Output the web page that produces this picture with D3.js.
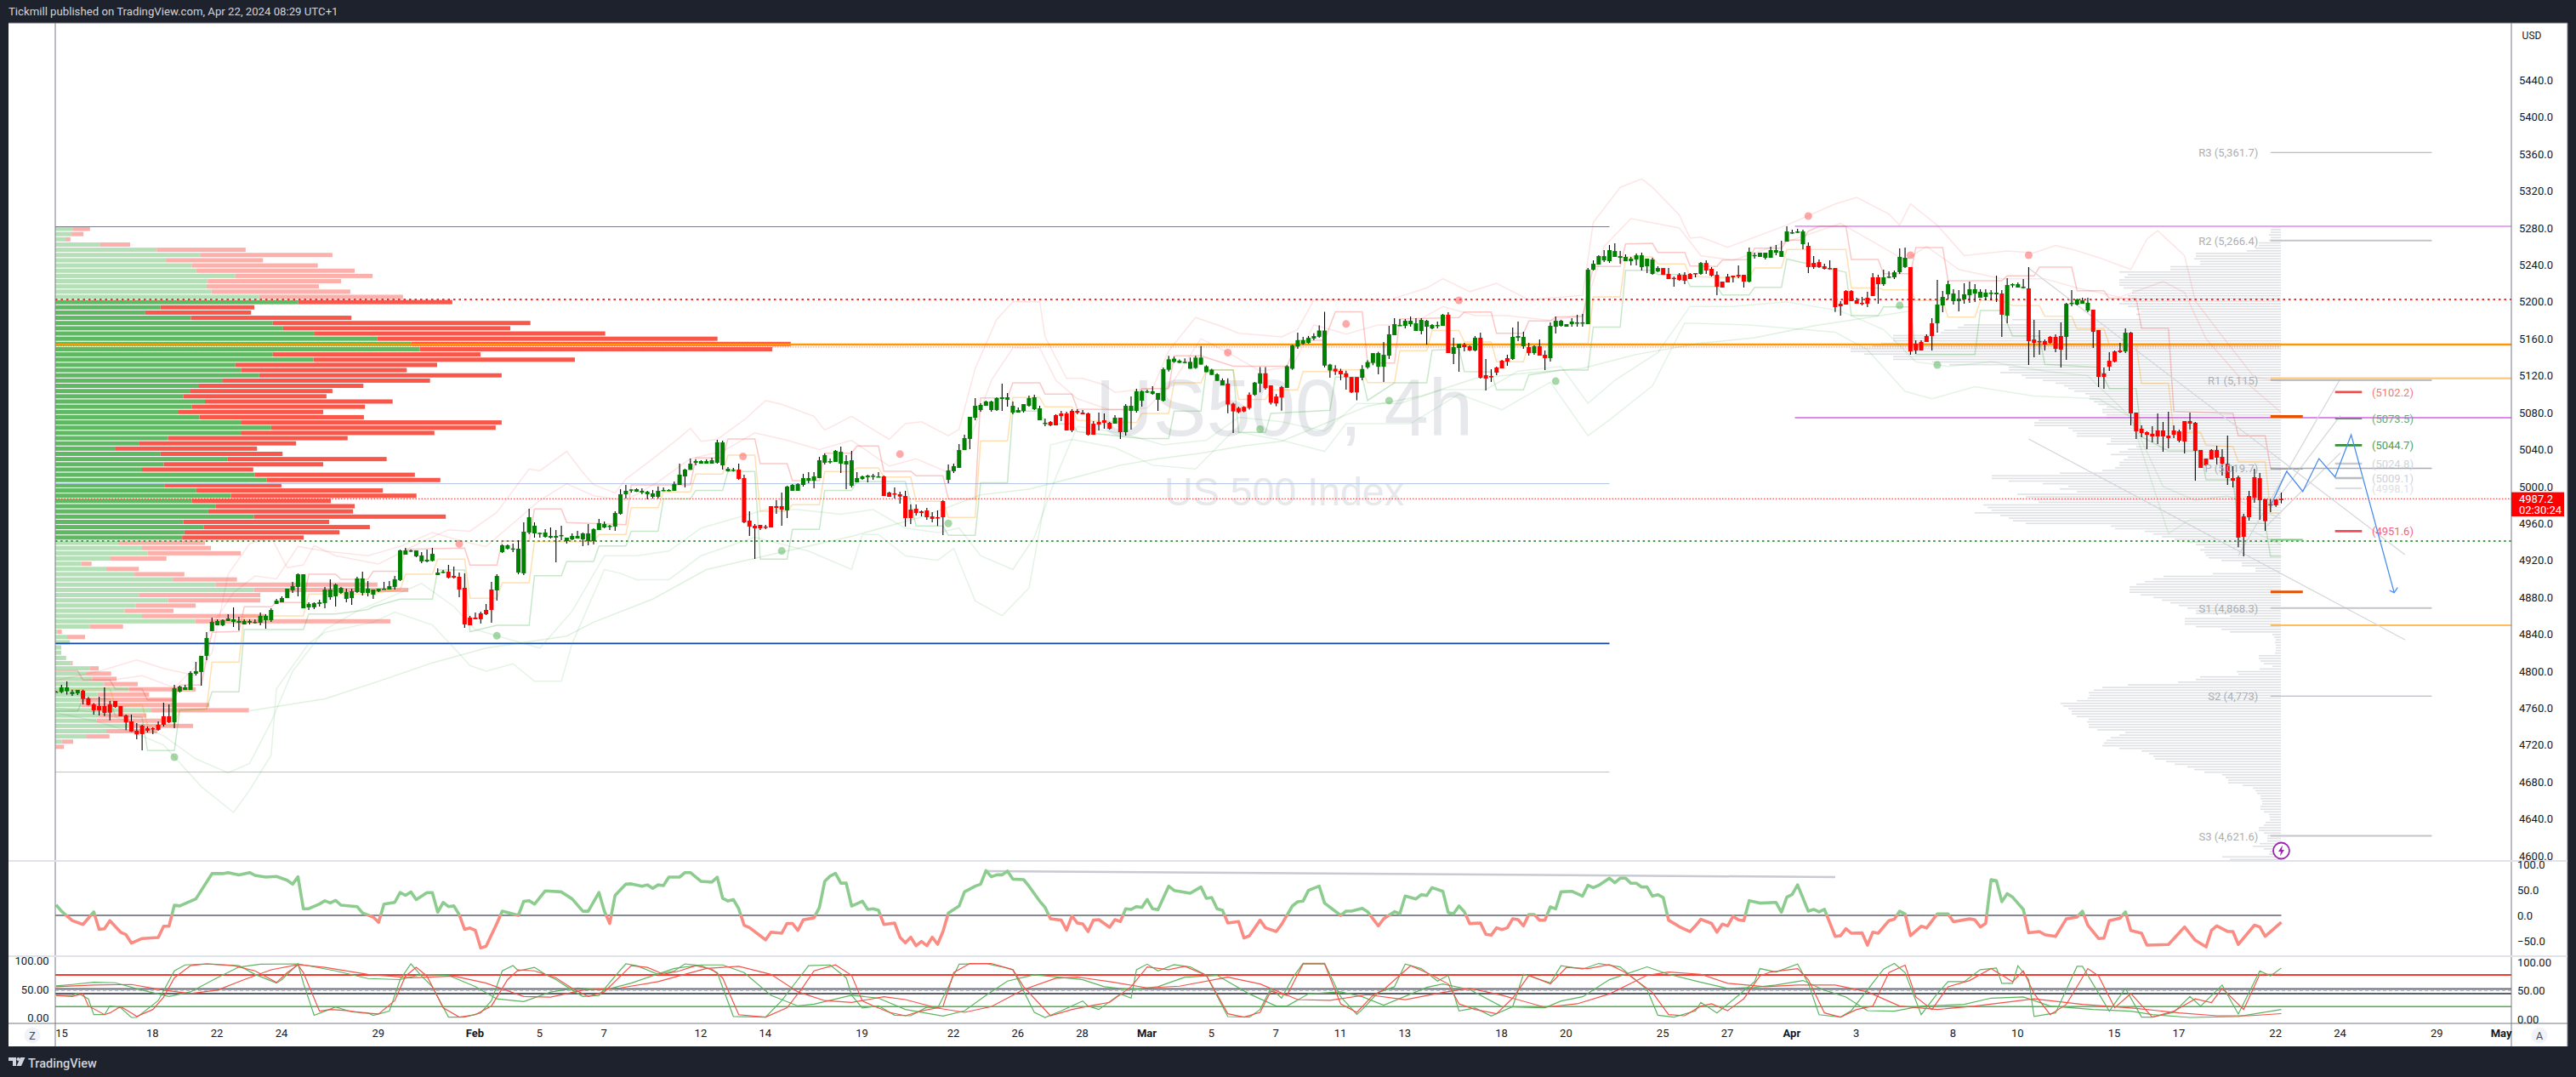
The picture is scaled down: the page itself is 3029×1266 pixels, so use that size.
<!DOCTYPE html>
<html><head><meta charset="utf-8">
<script src="https://cdn.jsdelivr.net/npm/d3@7/dist/d3.min.js"></script>
<style>html,body{margin:0;padding:0;background:#1e222d;overflow:hidden}svg{display:block}text{font-family:Roboto,sans-serif}</style>
</head><body><svg id="c" width="3029" height="1266"></svg>
<script>
// ---------- candles (one entry per 4h bar) ----------
const bodyTop=[4777.9,4782.5,4782.5,4777.6,4779.7,4778.8,4770.5,4764,4762.2,4762.2,4764,4767.7,4762.2,4752.1,4745.6,4735.5,4741,4738.2,4738.2,4741.9,4751.1,4751.1,4781.5,4783.4,4782.5,4798.1,4800,4816.6,4835.9,4853.4,4854.3,4855.3,4857.1,4856.2,4854.3,4854.3,4854.3,4853.4,4859.9,4859.9,4866.3,4876.4,4879.2,4889.3,4892.1,4905,4905,4872.8,4873.7,4874.6,4888.4,4888.4,4893.9,4890.3,4885.7,4886.6,4900.4,4900.4,4889.3,4888.4,4889.3,4889.3,4892.1,4899.5,4930.8,4930.8,4930.8,4930.8,4925.3,4920.7,4927.1,4906.8,4907.8,4907.8,4903.2,4902.2,4890.3,4858,4858,4862.6,4866.3,4888.4,
4903.1,4936.3,4936.3,4932.9,4932.6,4951,4966.7,4957.5,4949.8,4950.1,4946.4,4946.4,4947.4,4944.6,4946.4,4946.4,4949.2,4949.2,4953.8,4960.3,4959.3,4957.5,4971.3,4991.6,4995.3,4996.8,4997.1,4995.3,4994.3,4992.5,4995.3,4996.2,4996.2,5002.6,5012.8,5018.3,5024.7,5027.5,5027.5,5027.5,5028.4,5047.8,5047.8,5019.2,5018.3,5018.3,5009.1,4963,4957.5,4958.4,4956.6,4978.7,4978.7,4978.7,4999.9,5001.7,5002.6,5009.1,5009.1,5010.9,5028.4,5034,5027.5,5038.6,5037.6,5027.5,5028.4,5009.1,5010.9,5011.8,5011.8,5010.9,5010.9,4993.4,4992.5,4991.6,4989.7,4975,4975.9,4973.1,4974.1,4967.6,
4966.7,4984.2,5017.4,5022,5039.5,5052.4,5075.4,5087.4,5088.3,5092,5092,5095.7,5096.6,5096.6,5087.4,5082.8,5089.2,5095.7,5096.6,5084.6,5069,5069.9,5077.3,5079.1,5079.1,5081.9,5081.9,5080,5079.1,5068,5069.9,5071.7,5069,5074.5,5074.5,5087.4,5087.4,5103.1,5103.1,5103.1,5103.1,5101.2,5127,
5137.7,5138.4,5136.2,5135,5135,5139.6,5139.6,5130.2,5126.4,5121.5,5115.1,5111.4,5089.6,5085,5086.2,5099.3,5112.5,5122.6,5122.6,5109.5,5097.4,5107.6,5130.2,5152.7,5158.4,5158.4,5161,5162.9,5168.9,5168.9,5132,5127.5,5125.3,5122.6,5118.5,5118.5,5127.2,5134.7,5144.4,
5144.5,5142.6,5164.8,5175.8,5174.9,5179.5,5179.5,5176.7,5180.4,5179.5,5174.9,5174.9,5186,5186,5150.9,5154.6,5153.7,5151.9,5161.1,5161.1,5120.5,5119.6,5128.8,5136.2,5139,5162,5162.9,5162,5150.9,5151.9,5151.9,5142.6,5174,5179.5,5179.5,5175.8,5178.6,5177.7,5177.7,5234.8,5241.2,5249.5,5249.5,5256,5255,5249.5,5248.6,5246.8,5250.4,5250.4,5246.8,5245.8,5236.6,5236.6,5230.2,5225.9,5229.2,5229.2,5230.2,5231.1,5242.1,5242.1,5235.7,5229.2,5221.9,5227.4,5228.3,5229.2,5229.2,5254.1,5250.7,5253.2,5253.2,5256,5256,5255,5276.2,5275.3,5276.2,5276.2,5260.6,5242.1,5243,
5238.5,5236.6,5236.6,5197.9,5211.7,5211.7,5201.6,5198.9,5204.4,5226.5,5226.5,5226.5,5227.4,5232,5248.6,5247.7,5237.6,5154.6,5156.5,5162.9,5176.7,5197,5205.3,5219.1,5209,5203.5,5208.1,5213.6,5213.6,5210.8,5209.9,5209.9,5209.9,5209,5218.2,5219.1,5219.1,5216.4,5214.5,5159.2,5157.4,5157.4,5162,5162,5162.9,5197.9,5198.9,5202.5,5201.6,5198.9,5191.5,5169.4,5122.4,5136.2,5146.3,5147.3,5166.6,5166.6,5080,5062.5,5058.8,5057,5060.7,5060.7,5055.1,5060.7,5059.7,5070.8,5070.8,5069,5039.5,5030.3,5039.5,5039.5,5032.1,5024.7,5009.1,5010,4967.6,4989.7,5010,5009.1,4986.3,4980.8,4986,4986.6];
const bodyBottom=[4777.2,4777.2,4778.2,4775.1,4776,4769.9,4763.4,4757.6,4757.6,4754.8,4755.1,4761.3,4751.1,4744.7,4734.6,4731.5,4731.8,4735.5,4737.3,4736.4,4741.9,4744.7,4744.7,4777.9,4779.7,4779.7,4797.2,4799.1,4816.6,4843.3,4849.7,4849.7,4854.3,4853.4,4852.5,4850.6,4852.5,4852.8,4852.5,4855.3,4855.3,4872.8,4874.6,4879.2,4887.5,4891.2,4868.1,4869.1,4869.1,4872.8,4873.7,4880.1,4881,4884.7,4878.3,4879.2,4885.7,4884.7,4884.7,4882.9,4886.6,4888.7,4888.4,4891.2,4898.6,4926.2,4929.9,4924.3,4918.8,4918.8,4919.4,4904.1,4906.8,4901.3,4901.3,4888.4,4850.6,4849.7,4856.2,4856.2,4861.7,4866.3,
4887.5,4928.9,4932.6,4932,4906.8,4905.9,4950.1,4949.2,4949.2,4945.5,4944.6,4944.6,4946.7,4940.9,4942.7,4943.7,4942.7,4940.9,4940.9,4952.9,4955.6,4956.9,4956.6,4970.4,4991.6,4995.9,4994.3,4993.4,4991.6,4988.8,4988.8,4995.3,4995.3,4995.3,5001.7,5010.9,5018,5025.7,5024.7,5024.7,5024.7,5025.7,5022.9,5016.4,5017.4,5008.2,4961.2,4956.6,4954.7,4954.7,4955.6,4955.6,4976.8,4975,4974.1,4995.3,4995.3,5001.7,5006.3,5006.3,5009.1,5025.7,5026.6,5026.6,5024.7,5023.8,5000.8,5004.5,5008.2,5010,5010.9,5010,4989.7,4988.8,4991.6,4989.1,4965.8,4965.8,4971.3,4971.3,4966.7,4964.9,
4965.8,4966.7,5007.2,5016.5,5020.1,5039.5,5051.5,5074.5,5082.8,5087.4,5082.8,5082.8,5094.8,5093.9,5080,5080,5081.6,5087.4,5083.7,5071.7,5068.4,5066.2,5066.2,5076.3,5060.7,5060.7,5080,5078.2,5056,5056,5067.1,5069,5062.5,5068,5058.8,5058.8,5081.9,5081.9,5092.9,5102.1,5100.3,5093.9,5092.9,
5126.4,5135,5133.9,5134.3,5127.5,5128.3,5132,5123.8,5120.8,5114.4,5109.5,5088.8,5081.3,5080.5,5081.3,5085,5099.3,5111.4,5106.5,5090.7,5089.9,5096.3,5106.8,5127.5,5151.6,5154.6,5155.4,5160.2,5162.1,5130.9,5125.6,5124.5,5121.5,5118.5,5101.9,5101.9,5117.8,5129,5133.9,
5129.7,5129.7,5141.7,5163.8,5174,5174,5175.8,5168.4,5168.4,5173,5171.2,5174,5174,5144.5,5143.6,5150,5150.9,5147.3,5147.3,5117.8,5116.9,5118.7,5123.3,5127.9,5135.3,5138,5161.1,5151.9,5144.5,5144.5,5141.7,5139,5139,5173,5174,5173,5175.8,5176.7,5176.7,5175.8,5234.8,5240.3,5244.9,5244,5248.6,5247.7,5244,5244,5245.8,5237.5,5238.5,5230.2,5232.9,5229.2,5224.6,5225.3,5223.7,5222.8,5224.6,5230.2,5230.2,5233.9,5228.3,5216.3,5215.4,5221,5226.5,5227.4,5221.9,5221.9,5249.8,5248.6,5247.7,5247.7,5253.2,5248.6,5265.2,5274.4,5274.7,5262.4,5237.5,5237.5,5237.5,
5235.7,5236,5194.2,5195.2,5197,5200.7,5197.9,5198.2,5197.9,5206.2,5219.1,5219.1,5226.5,5226.5,5232,5237.6,5146.3,5147.3,5147.3,5156.5,5162.9,5176.7,5196.1,5208.1,5200.7,5200.7,5202.5,5207.2,5209,5204.4,5205.3,5209,5208.1,5186,5185,5218.2,5215.4,5214.8,5157.4,5155.6,5156.5,5153.7,5155.6,5149.1,5148.2,5162,5197.9,5197,5197.9,5190.6,5167.5,5118.7,5118.7,5129.8,5135.3,5145.4,5146.3,5079.1,5059.7,5057.9,5056,5054.2,5054.2,5054.2,5052.4,5056,5049.6,5048.7,5068,5038.6,5020.1,5022.9,5029.3,5031.2,5024.7,5009.1,5006.3,4944.6,4945.5,4966.7,4987.9,4985.1,4962.4,4980.2,4979.6,4986];
const highs=[4778.8,4785.2,4788.9,4780,4779.7,4780,4772,4765.3,4772.3,4782.5,4767.7,4767.7,4762.2,4753,4753,4743.8,4741.9,4740.1,4739.2,4745.6,4765.9,4764,4785.2,4784.3,4785.2,4800,4810.1,4816.6,4842.4,4858,4856.2,4856.2,4861.7,4869.1,4858.9,4856.2,4856.2,4856.2,4863.5,4861.7,4868.1,4878.3,4881,4889.3,4896.7,4905.9,4905,4874.6,4874.6,4877.4,4891.2,4899.5,4894.9,4891.2,4889.3,4889.3,4902.2,4907.8,4897.6,4888.4,4889.3,4896.7,4897.6,4903.2,4931.7,4933.6,4931.7,4930.8,4929,4931.7,4933.6,4911.5,4909.6,4915.1,4913.3,4906.8,4905.9,4859.9,4863.5,4864.5,4872.8,4896.7,
4905,4937.2,4937.2,4938.1,4941.8,4961.2,4975.9,4961.2,4950.1,4953.8,4955.6,4952.9,4957.5,4944.6,4949.2,4952,4950.1,4959.3,4954.7,4964.9,4962.1,4958.4,4973.1,4997.1,5001.7,4997.1,4998,4998,4995.3,4996.2,5000,4999,4997.1,5005.4,5024.7,5019.2,5030.3,5029.3,5028.4,5029.3,5031.2,5050.5,5049.6,5021.1,5020.1,5024.7,5012.8,4973.1,4959.3,4958.4,4958.4,4978.7,4985.1,4993.4,5000.8,5002.6,5003.6,5013.7,5015.5,5015.5,5032.1,5035.8,5030.3,5039.5,5043.2,5034,5038.6,5015.5,5011.8,5012.8,5013.7,5015.5,5011.8,4994.3,4999,4994.3,4995.3,4980.5,4980.5,4974.1,4976.8,4972.2,
4974.1,4985.1,5023.8,5024.7,5045.9,5056.1,5075.4,5095.7,5090.2,5092.9,5092.9,5096.6,5111.4,5101.2,5092,5085.6,5089.2,5098.4,5099.4,5087.4,5073.6,5070.8,5078.2,5081.9,5081,5083.7,5083.7,5082.8,5080,5070.8,5080,5079.1,5069.9,5077.3,5074.5,5089.2,5097.5,5105.8,5104,5104.9,5108.6,5101.2,5128.9,
5141.4,5140.7,5137.7,5138.8,5139.6,5141.4,5152,5131.3,5127.5,5122.6,5117,5117,5090.7,5086.2,5086.9,5101.9,5113.2,5129.4,5129.4,5109.5,5100.1,5108.7,5131.3,5153.5,5166.6,5162.1,5162.9,5165.9,5174.5,5189.2,5132.8,5131.3,5127.5,5125.3,5118.5,5118.5,5131.3,5136.6,5144.4,
5146,5156.5,5174,5182.3,5181.3,5181.3,5184.1,5182.3,5182.3,5180.4,5175.8,5178.6,5186.9,5188.7,5161.1,5154.6,5155.5,5152.8,5162.9,5166.6,5138,5127,5129.7,5137.1,5142.6,5172.1,5178.6,5167.5,5155.5,5152.8,5159.2,5147.3,5177.7,5184.1,5180.4,5175.8,5182.3,5186,5186.9,5236.6,5244.9,5250.4,5256,5261.5,5263.3,5255,5251.4,5248.6,5252.3,5253.2,5246.8,5247.7,5238.5,5236.6,5236.6,5227.4,5231.1,5232,5231.1,5231.1,5243.1,5244.9,5237.5,5232.9,5221.9,5230.2,5228.3,5239.4,5229.2,5258.7,5253.2,5253.2,5253.2,5259.6,5261.5,5266.1,5281.8,5278.1,5279,5278.1,5264.3,5249.5,5245.8,
5241.2,5244.9,5236.6,5200.7,5212.7,5212.7,5204.4,5205.3,5210.8,5231.1,5229.3,5234.8,5232.9,5233.9,5257.8,5258.7,5237.6,5158.3,5158.3,5164.8,5182.3,5223.7,5211.8,5222.8,5213.6,5212.7,5220,5221.9,5219.1,5213.6,5213.6,5212.7,5228.3,5212.7,5225.6,5220,5221,5224.6,5237.6,5180.4,5169.4,5159.2,5162.9,5164.8,5177.7,5198.9,5212.7,5203.5,5204.4,5204.4,5191.5,5169.4,5128.8,5145.4,5147.3,5155.6,5171.2,5167.5,5080,5066.2,5059.7,5065.3,5079.1,5069.9,5080.9,5066.2,5061.6,5070.8,5080,5069.9,5039.5,5030.3,5040.4,5044,5040.4,5055.1,5022,5011.8,4970.4,4995.2,5019.2,5014.6,4986.3,4986.3,4986,4993.4];
const lows=[4776.9,4776.3,4774.5,4773.3,4774.2,4764,4762.8,4753,4752.1,4751.4,4746.8,4760.4,4751.1,4736.1,4734.3,4726.3,4714.3,4733.6,4731.8,4735.5,4740.1,4743.8,4738.2,4776.9,4779.7,4779.7,4795.4,4784.3,4812,4843.3,4849.7,4848.8,4854.3,4847.9,4844.2,4850.6,4850.6,4851.6,4849.7,4846,4853.4,4872.8,4874.6,4879.2,4884.7,4881,4868.1,4866.3,4867.2,4870,4868.1,4877.4,4870,4883.8,4874.6,4871.8,4884.7,4882,4881,4878.3,4885.7,4888.4,4888.4,4888.4,4897.6,4926.2,4929,4923.4,4917,4917.9,4918.8,4904.1,4905.9,4900.4,4900.4,4880.1,4846.9,4849.7,4856.2,4851.6,4860.8,4852.5,
4876.4,4928,4931.7,4928.9,4905,4904,4948.3,4944.6,4944.6,4944.6,4943.7,4917.9,4941.8,4938.1,4941.8,4943.7,4935.4,4936.3,4937.2,4952.9,4954.7,4952.9,4952,4969.5,4987,4993.4,4994,4991.6,4986,4987,4987,4995,4995,4995.3,5001.7,4998.9,5018,5022.9,5024.7,5024.7,5024.7,5024.7,5018.3,5016.1,5016.1,5007.2,4960.3,4946.4,4921.6,4952.9,4953.8,4955.6,4970.4,4957.5,4965.8,4995.3,4995.3,4999.9,5003.6,4998,5009.1,5023.8,5024.7,5026.6,5014.6,4997.1,4998.9,5004.5,5007.2,5004.5,5007.2,5010,4989.7,4988.8,4987,4981.4,4956.6,4959.3,4968.5,4967.6,4964,4961.2,
4957.2,4947.4,5003.6,5014.6,5020.1,5039.5,5040.4,5071.7,5080.9,5087.4,5080.9,5081.9,5081.9,5086.5,5078.2,5080,5080,5086.5,5082.8,5071.7,5065.3,5065.3,5066.2,5070.8,5060.7,5058.8,5078.2,5078.2,5055.2,5056,5060.7,5062.5,5061.6,5068,5051.5,5055.2,5061.6,5080,5086.5,5101.2,5099.4,5081.9,5092,
5124.5,5133.9,5133.5,5133.5,5127.5,5127.5,5132,5123.8,5120.8,5114.4,5109.5,5079.4,5058,5079.4,5080.5,5083.2,5098.2,5101.9,5105,5088.8,5086.9,5082,5106.8,5126.4,5149,5153.8,5154.6,5158.4,5161,5129,5117.8,5120.8,5115.1,5105,5101.2,5093.3,5115.1,5127.5,5131.3,
5121.5,5113.2,5138,5163.8,5174,5171.2,5173,5168.4,5164.8,5153.7,5170.3,5171.2,5174,5144.5,5132.5,5124.2,5146.3,5146.6,5146.3,5116.9,5104,5113.2,5120.5,5127.9,5130.7,5137.1,5157.4,5149.1,5141.7,5142.6,5141.7,5126.1,5135.3,5165.7,5173,5173,5173,5173,5173,5175.8,5233.9,5240.3,5243.1,5242.1,5248.6,5241.2,5244,5239.4,5239.4,5233.9,5231.1,5229.2,5232,5229.2,5224.6,5216.3,5222.8,5219.1,5224.6,5226.5,5229.2,5230.2,5227.4,5207.1,5215.4,5221,5221,5225.6,5215.4,5221,5246.8,5248.6,5245.8,5247.7,5250.4,5248.6,5265.2,5273.5,5274.4,5256.9,5231.1,5235.7,5236.6,
5235.1,5235.1,5189,5185,5197,5200.7,5197.9,5196.1,5194.2,5206.2,5197.9,5217.3,5225.9,5224.6,5230.2,5236.6,5142.7,5143.6,5147.3,5156.5,5147.3,5166.6,5188.7,5202.5,5197,5189.6,5197.9,5198.9,5199.8,5204.4,5201.6,5201.6,5199.8,5162,5176.7,5215.4,5215.4,5214.5,5131.6,5139.9,5142.7,5147.3,5154.6,5145.4,5128.8,5137.1,5195.2,5196.1,5197.9,5188.7,5150,5107.6,5105.8,5125.2,5134.4,5144.5,5144.5,5066.2,5051.5,5053.3,5040.4,5047.8,5046,5037.6,5041.3,5052.4,5047.8,5035.8,5061.6,5006.3,5020.1,5022,5029.3,5023.8,5011.8,5001.7,4998.9,4934.1,4924.3,4963,4982.3,4963.9,4952,4972.2,4978,4981.7];
const greenRuns=[[0,4],[22,72],[82,126],[136,153],[166,184],[197,197],[199,217],[223,224],[229,237],[243,258],[260,261],[264,264],[271,273],[275,275],[278,298],[306,306],[315,325],[340,344],[350,361],[363,366],[374,378],[385,385]];

// ---------- indicator step lines, [bar, price] ----------
const resistanceSteps=[[0,4800.3],[4,4800.3],[5,4790.5],[10,4790.5],[11,4780.6],[16,4780.6],[17,4768.9],[22,4768.9],[23,4784.9],[27,4784.9],[29,4842.1],[34,4843],[35,4869.7],[40,4869.7],[41,4874.3],[46,4874.3],[47,4905],[52,4905],[53,4899.5],[58,4899.5],[59,4908.1],[64,4908.1],[65,4932],[76,4933.3],[77,4914.8],[82,4914.8],[83,4940.9],[88,4940.9],[89,4975.6],[94,4975.6],[95,4960.9],[106,4958.7],[107,5001.7],[118,5001.7],[119,5030.9],[124,5030.9],[125,5051.5],[130,5051.5],[131,5024.7],[136,5024.7],[137,5006.3],[142,5006.3],[143,5036.1],[148,5036.1],[149,5043.8],[153,5043.8],[154,5016.5],[159,5016.5],[160,5011.5],[165,5011.5],[166,4986.4],[171,4986.4],[172,5096],[177,5096],[178,5112.3],[183,5112.3],[184,5100],[189,5100],[190,5083.7],[201,5083.1],[202,5106.1],[207,5106.1],[208,5141.4],[213,5141.4],[219,5130.2],[229,5130.2],[231,5158.4],[236,5158.4],[238,5189.2],[243,5189.2],[244,5133.9],[249,5133.7],[250,5181.3],[261,5182.9],[262,5189],[267,5189],[268,5166],[273,5166],[274,5179.2],[278,5179.2],[279,5183.5],[284,5184.4],[286,5238.2],[291,5238.2],[292,5262.7],[297,5263.3],[298,5253.5],[303,5253.5],[304,5239],[309,5238.2],[310,5245.2],[315,5245.8],[316,5258.1],[321,5258.1],[322,5266.7],[325,5266.7],[326,5276.5],[328,5281.8],[333,5281.8],[334,5245.8],[339,5245.8],[340,5230.5],[345,5230.5],[346,5258.7],[351,5258.7],[352,5222.8],[362,5222.8],[363,5228],[368,5228],[369,5237.5],[375,5237.5],[376,5212.1],[381,5212.1],[382,5203.8],[387,5203.8],[388,5171.2],[393,5171.2],[394,5081.5],[405,5079.1],[406,5054.8],[411,5054.8],[412,5020.1],[414,5018.5]];
const middleSteps=[[0,4778],[5,4780.6],[10,4781.2],[11,4762.2],[16,4763.7],[17,4740.7],[22,4740.7],[23,4758.5],[28,4758.5],[29,4809.8],[34,4809.8],[35,4859.9],[46,4859.9],[47,4883.5],[58,4883.5],[64,4888.1],[65,4905],[70,4905],[71,4921.3],[76,4921.3],[77,4878.9],[82,4878.9],[83,4895.8],[88,4895.8],[89,4940.3],[100,4940.3],[101,4948],[106,4948],[107,4977.1],[112,4977.1],[113,4994],[118,4994],[119,5013.4],[124,5013.4],[125,5034],[130,5034],[131,4973.1],[136,4973.1],[137,4980.2],[142,4980.2],[143,5016.1],[148,5016.1],[149,5020.1],[153,5020.1],[154,5010.3],[159,5010.3],[160,4983.9],[165,4983.9],[166,4966.4],[171,4966.4],[172,5049.3],[177,5049.3],[178,5096.3],[183,5096.3],[184,5086.2],[189,5086.2],[190,5071.7],[201,5069.3],[202,5079.1],[207,5079.1],[208,5112.3],[213,5112.3],[214,5126.1],[219,5126.1],[220,5094.4],[225,5094.4],[226,5104.6],[231,5104.6],[232,5124.5],[237,5124.5],[238,5126.4],[243,5126.4],[244,5112.5],[249,5112.5],[250,5147.1],[255,5147.1],[256,5168.9],[261,5168.9],[262,5156.5],[267,5156.5],[268,5135],[273,5135],[274,5154.6],[285,5154.6],[286,5205.4],[291,5205.4],[292,5248.6],[297,5248.6],[298,5241.1],[303,5241.1],[304,5227.4],[309,5226.5],[315,5225.9],[316,5236.6],[321,5236.6],[322,5256.6],[333,5256.6],[334,5215.1],[339,5215.1],[340,5213],[345,5213],[346,5201.3],[351,5201.3],[352,5183.5],[357,5183.5],[358,5201.3],[362,5201.3],[364,5195.8],[369,5195.8],[370,5184.4],[375,5184.4],[376,5170.6],[381,5170.6],[382,5153.7],[387,5153.7],[388,5111.6],[393,5111.6],[394,5058.5],[399,5058.5],[400,5044.7],[405,5043.1],[406,5026.9],[411,5026.9],[412,4971],[414,4971]];
const supportSteps=[[0,4756.7],[4,4756.7],[5,4769.9],[10,4769.9],[11,4751.5],[16,4749.9],[17,4714],[22,4714],[23,4757.6],[28,4759.1],[29,4777.6],[34,4777.6],[35,4845.1],[46,4845.1],[47,4862],[52,4862],[58,4866.6],[59,4869.7],[64,4878],[70,4878],[71,4909.6],[76,4909.6],[77,4842.7],[82,4849.7],[88,4849.7],[89,4903.4],[94,4903.4],[95,4918.8],[100,4918.8],[101,4935.7],[106,4935.7],[107,4951.6],[112,4951.6],[113,4986.4],[118,4986.4],[119,4995.6],[124,4995.6],[125,5016.1],[130,5016.1],[131,4921.2],[136,4921.2],[137,4953.5],[142,4953.5],[143,4995.6],[148,4995.6],[149,5005.4],[158,5005.4],[160,4957.2],[165,4957.2],[166,4947],[171,4947],[172,5003.9],[177,5003.9],[178,5081.6],[183,5081.6],[184,5067.7],[189,5067.7],[190,5059.4],[202,5051.8],[207,5051.8],[208,5081.6],[213,5081.6],[214,5126.4],[219,5126.4],[220,5058.5],[225,5058.5],[226,5079.1],[237,5082.5],[238,5118.4],[243,5118.4],[244,5093.2],[249,5112.2],[255,5112.2],[256,5147.6],[261,5149.1],[262,5124.5],[267,5123.9],[268,5104.6],[273,5104.6],[274,5120.8],[280,5126.1],[285,5126.1],[286,5172.7],[291,5172.7],[292,5234.2],[297,5234.2],[298,5229.6],[303,5229.6],[304,5216.7],[309,5216.7],[310,5207.4],[315,5207.4],[316,5215.7],[321,5215.7],[322,5246.4],[333,5232],[334,5185],[339,5185],[340,5194.6],[345,5194.6],[346,5143],[357,5143],[358,5190.6],[362,5190.6],[364,5162.9],[369,5162.9],[370,5132.2],[375,5130.7],[380,5129.2],[382,5106.1],[387,5106.1],[388,5053.9],[393,5038.5],[399,5038.5],[400,5007.2],[405,5007.2],[406,4960],[411,4960],[412,4924.3],[414,4924.3]];

// ---------- bands, [bar, price] ----------
const upperOuter=[[0,4790],[8,4800],[15,4812],[20,4803],[26,4795],[29,4820],[32,4905],[36,4938],[40,4945],[43,4912],[46,4915],[48,4936],[52,4925],[60,4916],[68,4940],[73,4953],[77,4951.6],[82,4972],[88,5019],[90,5017],[95,5038],[98,5015],[100,5002],[104,4993],[106,5008],[111,5030],[116,5053],[118,5063],[120,5049],[123,5051],[128,5072],[132,5093],[135,5089],[141,5076],[143,5061],[148,5076],[155,5051],[158,5068],[161,5070],[166,5055],[168,5062],[171,5128],[175,5181],[178,5200],[183,5200],[184,5162],[188,5117],[191,5117],[195,5110],[197,5102],[200,5104],[204,5106],[207,5147],[212,5183],[217,5173],[220,5166],[228,5162],[231,5170],[234,5202],[243,5202],[248,5202],[255,5215],[258,5225],[263,5211],[268,5220],[274,5202],[284,5207],[286,5286],[291,5324],[295,5333],[297,5324],[302,5294],[304,5269],[306,5270],[311,5259],[322,5283],[331,5306],[335,5313],[341,5295],[343,5283],[345,5306],[350,5283],[355,5250],[363,5255],[368,5253],[372,5261],[375,5257],[380,5248],[386,5235],[389,5268],[391,5277],[396,5250],[398,5201],[403,5163],[409,5118],[414,5114]];
const upperInner=[[0,4788],[10,4790],[16,4795],[22,4782],[26,4805],[29,4850],[33,4885],[37,4903],[41,4900],[45,4935],[50,4930],[58,4925],[64,4935],[70,4950],[76,4940],[80,4935],[85,4960],[90,4985],[95,5003],[100,4990],[106,4985],[112,5005],[118,5030],[124,5038],[130,5058],[136,5050],[142,5040],[148,5050],[155,5022],[160,5030],[166,5015],[170,5050],[174,5115],[178,5150],[183,5150],[186,5115],[190,5095],[196,5083],[203,5085],[208,5115],[213,5160],[218,5145],[224,5125],[230,5130],[234,5175],[240,5165],[246,5175],[252,5175],[258,5195],[264,5185],[270,5185],[278,5180],[284,5185],[288,5260],[293,5290],[302,5280],[306,5250],[312,5245],[322,5265],[332,5285],[338,5265],[344,5245],[348,5260],[354,5235],[362,5225],[370,5225],[376,5215],[384,5205],[392,5222],[396,5210],[400,5160],[406,5120],[414,5080]];
const lowerInner=[[0,4760],[8,4755],[14,4745],[20,4730],[26,4705],[32,4690],[36,4700],[40,4745],[44,4800],[50,4845],[56,4865],[62,4880],[68,4895],[74,4870],[78,4845],[84,4835],[90,4825],[96,4865],[102,4925],[108,4925],[114,4930],[120,4955],[126,4965],[132,4975],[138,4975],[146,4970],[152,4975],[158,4955],[164,4950],[168,4955],[172,4925],[178,4910],[182,4945],[186,5010],[190,5065],[198,5058],[206,5045],[214,5050],[220,5075],[228,5070],[236,5060],[242,5090],[250,5090],[258,5105],[266,5105],[272,5125],[280,5130],[285,5090],[290,5115],[298,5145],[304,5195],[312,5195],[322,5200],[332,5190],[340,5170],[346,5135],[352,5130],[360,5135],[370,5125],[378,5120],[386,5075],[392,5000],[398,4985],[404,4990],[414,4965]];
const lowerOuter=[[0,4755],[8,4745],[15,4732],[20,4720],[27,4675],[33,4647],[36,4671],[40,4709],[41,4781],[47,4830],[50,4842],[59,4853],[63,4864],[70,4850],[75,4819],[77,4806],[80,4800],[85,4808],[89,4789],[94,4789],[96,4830],[102,4910],[105,4906],[108,4899],[114,4899],[120,4925],[130,4945],[140,4930],[148,4910],[150,4948],[153,4948],[158,4925],[164,4920],[167,4933],[171,4876],[176,4860],[181,4890],[184,4985],[185,5045],[189,5051],[197,5042],[204,5023],[212,5019],[219,5060],[228,5050],[236,5038],[240,5068],[252,5068],[261,5100],[269,5083],[278,5113],[285,5055],[289,5072],[297,5109],[303,5177],[315,5175],[331,5167],[337,5148],[344,5103],[349,5095],[357,5108],[368,5098],[380,5095],[386,5075],[393,4949],[397,4964],[404,4964],[414,4937]];
const slowAverage=[[36,4757],[50,4770],[60,4789],[70,4809],[80,4825],[95,4838],[100,4853],[111,4878],[121,4910],[135,4929],[148,4946],[161,4967],[168,4982],[172,4991],[181,4997],[191,5012],[198,5023],[205,5030],[213,5036],[221,5044],[228,5049],[236,5068],[244,5087],[254,5098],[264,5117],[274,5123],[284,5128],[294,5143],[306,5155],[316,5161],[327,5174],[345,5190]];
const redSignals=[[75,4937.8],[127.8,5032.5],[157,5035],[218,5145],[240,5176],[261,5201.6],[326,5292.8],[345,5250.5],[367,5250.5]];
const greenSignals=[[22,4706.9],[82,4838.3],[135,4930.2],[166,4960],[224,5062],[248,5093],[279,5114],[343,5196],[350,5131.6]];

// ---------- fixed range volume profile (left), rows top to bottom ----------
const leftBuy=[33,30,19,83,187,268,204,252,260,332,281,279,288,376,448,194,166,250,401,420,478,594,656,672,401,476,332,343,376,309,265,248,236,276,252,226,266,342,398,342,208,154,110,194,318,200,160,368,390,202,260,324,252,296,282,366,236,274,238,234,116,160,170,102,48,94,146,218,296,366,154,208,148,128,160,258,64,4,22,27,11,11,20,29,64,58,68,90,136,78,46,48,176,80,76,138,94,58,12,1];
const leftTotal=[64,52,28,138,351,511,383,484,552,585,527,486,544,641,732,367,361,546,876,839,1014,1221,1356,1322,784,958,704,648,823,691,568,511,500,622,571,494,569,823,812,699,539,444,372,419,611,494,365,663,710,417,604,666,508,552,549,720,505,580,524,458,276,287,342,205,67,154,238,335,594,651,378,378,259,218,388,618,125,12,55,27,11,11,20,32,80,103,113,152,259,173,216,284,357,168,198,254,188,100,33,16];
const rightProfile=[10,12,12,14,12,14,26,26,30,40,100,100,102,95,95,130,130,190,180,184,190,190,190,185,175,175,180,175,185,190,180,170,165,170,165,316,300,373,380,396,400,456,456,456,470,480,506,506,490,456,456,410,390,320,320,330,305,300,280,265,255,250,243,230,225,225,220,215,205,210,210,205,205,285,290,290,250,245,240,240,200,200,205,170,180,190,200,180,185,190,190,195,210,260,340,340,320,280,250,260,240,310,300,290,285,350,345,340,360,330,320,315,300,200,195,160,150,140,125,110,100,90,95,90,88,85,70,46,46,30,30,80,138,150,160,170,178,178,178,165,150,140,130,120,110,100,100,60,113,113,113,100,70,60,10,8,6,7,6,6,6,7,26,26,24,20,10,25,52,50,95,100,121,180,210,220,226,225,227,240,259,256,250,246,246,240,226,228,226,226,216,183,190,200,205,208,210,190,164,155,150,148,135,125,110,102,90,69,65,62,62,45,33,30,28,24,24,22,22,24,24,20,14,13,13,18,20,26,26,20,16,16,16,25,33,20,13,14,69,60];

// ---------- levels ----------
const longLevels=[{p:5281.3,c:"#787b86",w:1},{p:5003,c:"#b2c4e6",w:1},{p:4830,c:"#0d47a1",w:1.6},{p:4690.7,c:"#a5d6a7",w:1}];
const longLevelEndBar=289;
const fullLevels=[{p:5202.5,c:"#ff2b2b",w:2,d:"2.5 4"},{p:5153.7,c:"#ff9800",w:2.6,d:""},{p:4986.7,c:"#ff1e1e",w:1,d:"1.5 2"},{p:4940.9,c:"#43a047",w:2,d:"2.5 3.6"}];
const magentaLevels=[{p:5281.7,c:"#e9a5f5",w:2},{p:5074.5,c:"#d763e8",w:1.5}];
const rightOrange=[{p:5117.1,c:"#ffcc80",w:2.5},{p:4849.7,c:"#ffa726",w:1.5}];
const shortLevels=[{p:5075.8,c:"#e65100",w:3},{p:4885.9,c:"#e65100",w:3},{p:5019.2,c:"#ef7a7a",w:2},{p:4942.3,c:"#81c784",w:2}];
const pivotNames=["R3 (5,361.7)","R2 (5,266.4)","R1 (5,115)","P (5,019.7)","S1 (4,868.3)","S2 (4,773)","S3 (4,621.6)"];
const pivotValues=[5361.7,5266.4,5115,5019.7,4868.3,4773,4621.6];
const pivotWidths=[1,2,1.5,1.5,2,1,2];
const targetValues=[5102.2,5073.5,5044.7,5024.8,5009.1,4998.1,4951.6];
const targetLine=["#ef4b47","#6f8a72","#388e3c","#c9cbcf","#b9bbbf","#dcdde0","#ef4a5a"];
const targetText=["#f27a76","#6fa873","#4a9f4e","#d2d4d8","#cfd1d5","#dedfe2","#f2647a"];
const channelLines=[[[367,5236.4],[437,4926.2]],[[367,5051.4],[437,4834.1]],[[406,4924.9],[425,5116.8]],[[412,4977],[425,5077]],[[411,4955.6],[425,5036.4]]];
const forecastPath=[[412.1,4980.2],[415,5016.4],[418,4994.6],[421,5030.2],[424,5010.3],[427,5056],[435,4885]];

// ---------- oscillator ----------
const oscillator=[[0,20.6],[1,8.2],[3,-10.3],[5,-17.9],[7,6.9],[8,-27.5],[9,-26.1],[10,-10.3],[12,-33],[13,-37.8],[14,-54.3],[16,-45.3],[19,-43.3],[20,-21.3],[21,-21.3],[22,19.9],[23,18.5],[26,32.3],[29,81.8],[31,81.8],[32,83.8],[34,79.3],[36,83.8],[37,78.3],[39,74.9],[41,76.3],[43,68.7],[44,61.1],[45,75.6],[46,13],[47,13],[49,22.3],[50,28.5],[51,24.4],[52,29.2],[53,20],[56,17.2],[57,4.8],[59,-3.4],[60,-13.7],[61,22],[63,25.4],[64,44.7],[65,39.2],[66,46],[67,30.9],[69,44.7],[70,44.7],[71,6.2],[72,25.4],[73,17.2],[74,18.5],[75,1.4],[76,-27.5],[77,-24.7],[78,-29.5],[79,-64],[80,-60.5],[82,-15.8],[83,8.2],[86,0],[87,27.5],[88,28.9],[89,22],[91,48],[94,46],[96,32.3],[98,8.2],[99,8.2],[101,44.7],[102,8.2],[103,-15.8],[104,39.2],[106,61.1],[107,61.8],[109,57],[110,59.8],[111,52.9],[112,59.8],[113,58.4],[114,75],[116,75],[117,83.8],[118,83.8],[120,66.6],[122,65.2],[123,74.9],[124,33.7],[125,28.2],[126,31],[127,13],[128,-19.2],[129,-24],[132,-48],[133,-33],[135,-35],[136,-15.8],[137,-15.8],[138,-29.5],[139,-8.9],[141,-4.8],[142,15.1],[143,66.6],[144,76.9],[145,82.4],[146,63.2],[147,63.2],[148,18.3],[150,27.8],[151,11.7],[152,12.8],[153,10],[154,-17.8],[156,-15],[157,-42.8],[158,-53.9],[159,-42.8],[160,-59.5],[161,-51.1],[162,-59.5],[163,-42.8],[164,-56.7],[165,-31.7],[166,4.4],[168,18.3],[169,46.1],[171,57.2],[172,61.1],[173,87.8],[174,75.6],[175,79.4],[176,79.4],[177,86.7],[178,71.1],[180,70],[181,57.2],[183,27.8],[184,15.6],[185,-6.7],[187,-9.4],[188,-28.9],[189,-1.1],[190,-15],[191,-16.7],[192,-31.7],[193,-9.4],[194,-8.3],[196,-23.3],[197,-8.3],[198,-12.2],[199,12.8],[200,11.7],[201,17.2],[202,15.6],[203,31.1],[204,12.8],[205,11.1],[207,57.2],[208,48.9],[211,43.3],[213,55.6],[214,33.3],[215,35],[216,12.8],[217,10],[218,-15],[220,-12.2],[221,-44.4],[222,-40],[224,-9.4],[225,-24.4],[227,-31.7],[228,-17.8],[230,18.3],[231,26.7],[232,27.8],[233,48.9],[235,57.2],[236,23.9],[239,0],[240,8.3],[241,8.3],[243,13.9],[244,7.2],[246,-20.6],[247,-6.7],[249,7.2],[250,3.3],[251,37.8],[253,32.2],[254,40.6],[255,38.9],[256,54.4],[258,47.2],[259,5.6],[260,3.3],[261,18.3],[262,7.2],[263,-16.1],[265,-15],[266,-37.2],[267,-38.9],[268,-24.4],[269,-27.8],[270,-24.4],[271,-6.7],[272,-8.3],[273,-20.6],[274,1.7],[275,1.7],[276,-9.4],[277,-9.4],[278,16.7],[279,12.8],[280,46.1],[282,47.2],[284,37.8],[285,58.9],[286,54.4],[287,58.9],[289,72.8],[290,63.9],[291,72.8],[292,72.8],[293,62.8],[294,62.8],[295,55.6],[296,55.6],[297,37.8],[298,40.6],[299,35],[300,-9.4],[302,-22.2],[304,-31.7],[305,-20.6],[306,-7.6],[308,-15.8],[309,-33],[310,-17.2],[311,-20.6],[312,-2],[313,-8.9],[314,-10.3],[315,28.9],[317,24],[320,25.4],[321,6.2],[322,35.7],[323,41.2],[324,59.8],[326,8.2],[327,11.7],[328,6.9],[329,11.7],[331,-41.2],[332,-39.8],[333,-26.1],[334,-35],[336,-34.3],[337,-58.4],[338,-33],[339,-35],[341,-10.3],[342,-7.6],[343,8.2],[344,2.7],[345,-39.8],[347,-21.3],[348,-24.7],[350,2.7],[352,2.7],[353,-12.4],[356,-6.9],[357,-8.9],[358,-22.7],[359,-15.8],[360,70],[361,68],[362,26.8],[363,42.6],[364,35.7],[366,11.7],[367,-34.3],[369,-31.6],[370,-37.8],[372,-41.2],[374,-6.9],[376,-3.4],[377,8.2],[378,-19.2],[380,-45.3],[381,-44.7],[382,-10.3],[384,-5.5],[385,6.9],[386,-29.5],[388,-35],[389,-58.4],[393,-57],[396,-22.7],[398,-48.8],[400,-61.8],[401,-29.5],[402,-20.6],[404,-31.6],[405,-31.6],[406,-57],[409,-19.2],[410,-22.7],[411,-41.2],[413,-22.7],[414,-13.7]];
const oscillatorTrend=[[173,86.7],[331,75]];

// ---------- stochastic pane ----------
const fastGreen=[[0,41.8],[3,41.8],[4,46.1],[6,35.6],[7,7.9],[9,7.9],[10,23.3],[12,20.2],[14,3],[15,3],[19,32.6],[22,85],[24,95.4],[28,97.3],[34,94.2],[37,78.8],[41,63.4],[42,69.6],[45,97.3],[46,63.4],[48,6.7],[50,14.1],[52,21.5],[55,12.8],[58,11],[59,6.7],[62,14.1],[64,69.6],[66,97.3],[68,75.7],[70,57.2],[73,3.6],[76,3.6],[79,11],[81,32.6],[83,85],[85,94.2],[86,85],[89,91.2],[91,78.8],[93,69.6],[96,51.1],[98,40],[101,41.8],[104,75.7],[106,97.3],[108,94.2],[112,78.8],[115,85],[117,97.3],[120,94.2],[123,81.9],[126,4.8],[132,3.6],[135,32.6],[138,69.6],[140,94.2],[144,95.4],[147,72.7],[148,42],[150,19.5],[153,23.5],[156,7],[159,6],[162,21],[164,19.5],[166,57],[168,96.8],[173,97.8],[176,92],[178,87],[182,12],[184,3],[187,14.5],[191,32],[192,23],[194,17],[198,44.4],[200,37],[201,87],[203,96.8],[205,85],[208,96],[211,92],[214,77],[218,4.5],[222,3.5],[224,17],[226,54.4],[228,37],[230,72],[232,98.3],[236,98.3],[239,39.4],[242,8.5],[243,17],[246,47],[249,57],[251,97],[254,89],[257,67],[259,77],[261,14.5],[264,19.5],[267,5.5],[271,22],[273,79],[278,64],[280,94],[284,88],[287,98],[291,92],[296,52],[298,7],[301,3.5],[305,14.5],[306,29.5],[309,11],[313,41.8],[316,66],[317,89],[320,83],[324,97],[326,63],[328,7.9],[332,3.6],[334,15],[340,88],[342,98],[344,81.9],[347,7.9],[350,45],[352,66],[355,66],[358,87],[361,90],[362,63],[364,63],[365,94],[367,69.6],[368,4.8],[372,11],[376,93],[377,93],[382,14],[385,54],[388,3.6],[390,3.6],[394,12],[397,40],[399,23],[403,60],[406,9],[410,85],[412,76],[414,90]];
const fastRed=[[0,41.8],[3,40],[5,44.9],[6,23.3],[9,7.9],[10,11],[12,22],[14,11],[15,4.8],[18,17],[20,38.7],[22,72.7],[25,94.2],[28,97.3],[33,94.2],[37,85],[41,64.6],[43,81.9],[45,95.4],[46,81.9],[49,14.1],[51,17],[54,15.3],[57,11],[60,9.1],[63,32.6],[65,75.7],[67,91.2],[69,75.7],[72,20.2],[75,3.6],[78,7.9],[81,23.3],[84,69.6],[86,86.8],[89,85],[93,72.7],[96,54.2],[99,40],[102,48],[105,75.7],[107,94.2],[110,91.2],[113,78.8],[116,85],[119,94.2],[122,88],[124,72.7],[127,7.9],[132,3.6],[136,20.2],[139,57.2],[141,85],[145,95.4],[148,77],[150,32],[152,23.5],[155,12],[158,6],[161,14.5],[165,22],[167,82],[170,98],[174,98],[178,87],[180,57],[185,6],[189,17],[193,24.5],[196,29.5],[200,57],[203,92],[207,87],[210,93],[214,77],[218,9.5],[221,3.5],[224,12],[226,49],[229,42],[232,97],[236,97],[239,27],[242,12],[245,42],[247,52],[252,94],[255,82],[259,62],[261,27],[264,17],[268,9.5],[271,37],[274,77],[278,62],[281,91],[285,89],[289,96],[292,82],[297,47],[300,8],[303,6],[306,23],[308,27],[311,15],[314,36],[317,76],[319,83],[324,89],[326,69.6],[329,11],[332,3.6],[335,17],[338,23],[341,82],[344,95],[346,39],[349,17],[352,57],[356,68],[360,89],[364,66],[366,85],[368,45],[371,8],[374,26],[378,89],[380,76],[383,20],[386,45],[390,3.6],[394,14],[398,35.6],[401,29],[403,54],[407,17],[410,79],[414,79]];
const slowGreen=[[0,58.5],[3,61],[7,65],[11,64],[16,51],[21,40],[25,48],[30,73],[34,91.6],[38,96.7],[45,97.3],[52,85],[58,71.5],[64,69.6],[68,78.8],[73,77],[78,57.2],[82,35.6],[87,31],[92,47.6],[97,55],[102,51],[107,63.4],[115,89.3],[120,95.4],[124,95.4],[128,81.9],[133,41.8],[138,23.3],[141,26.4],[148,42],[153,37],[158,17],[165,5.5],[169,14.5],[173,42],[177,67],[182,78],[191,69.5],[195,57],[200,52],[205,57],[210,74],[216,77],[222,44.4],[227,23],[229,23],[233,44.4],[239,48],[243,39.4],[247,24.5],[255,56],[258,62],[263,52],[269,22],[277,20],[280,32],[284,39.4],[289,69.5],[296,92],[300,79],[306,65],[311,54],[316,56],[320,60],[325,68],[329,51],[333,39],[337,15],[342,14],[347,23],[355,26],[360,37],[366,39],[371,23],[379,17],[386,14],[390,8],[397,3],[406,4.8],[414,17]];
const slowRed=[[0,57],[7,60],[14,61],[20,51],[25,45],[30,51],[35,69.6],[40,86.8],[45,96],[50,91],[58,78.8],[66,72.7],[74,75.7],[80,63.4],[87,40],[92,38.7],[98,51],[105,55],[112,66],[121,89.3],[127,93],[133,78.8],[138,48],[143,32.6],[148,29.5],[154,39.4],[158,34.4],[164,19.5],[169,12],[174,22],[180,52],[186,72],[190,74],[196,66],[203,55],[209,58],[218,74],[224,62],[231,34.4],[237,33],[244,43],[251,34.4],[258,47],[263,54.4],[269,42],[277,21],[283,27],[289,44.4],[296,77],[300,83],[306,79],[311,63],[318,57],[324,60],[331,60],[337,48],[343,23],[350,17],[357,23],[368,35.6],[377,26],[387,19],[395,11],[402,6],[408,6],[414,9.7]];
const stochLevels=[{v:78,c:"#f23b30",w:2,d:""},{v:53,c:"#6a6d78",w:2,d:""},{v:50,c:"#b9bcc6",w:1,d:"4 3"},{v:45,c:"#5d6069",w:2,d:""},{v:22,c:"#4caf50",w:1.5,d:""}];

// ---------- axes ----------
const priceTicks=d3.range(4600,5441,40);
const oscTicks=[100,50,0,-50];
const stochTicks=[100,50,0];
const timeBars=[0,18,30,42,60,78,90,102,120,132,150,167,179,191,203,215,227,239,251,269,281,299,311,323,335,353,365,383,395,413,425,443,455];
const timeLabels=["15","18","22","24","29","Feb","5","7","12","14","19","22","26","28","Mar","5","7","11","13","18","20","25","27","Apr","3","8","10","15","17","22","24","29","May"];
const boldLabels=["Feb","Mar","Apr","May"];

// ---------- scales ----------
const X=d3.scaleLinear().domain([0,455]).range([66,66+6.32*455]);
const Y=d3.scaleLinear().domain([4600,5440]).range([1006,94.27]);
const O=d3.scaleLinear().domain([-50,100]).range([1106,1016]);
const S=d3.scaleLinear().domain([0,100]).range([1198,1131.2]);
const plotL=65,plotR=2953,paneR=3019,paneT=27,paneB=1230;
const mainB=1012,oscB=1124,stochB=1203;
const svg=d3.select("#c");
const lineMain=d3.line().x(d=>X(d[0])).y(d=>Y(d[1]));
const lineOsc=d3.line().x(d=>X(d[0])).y(d=>O(d[1]));
const lineS=d3.line().x(d=>X(d[0])).y(d=>S(d[1]));

svg.append("rect").attr("width",3029).attr("height",1266).attr("fill","#1e222d");
svg.append("rect").attr("x",10).attr("y",paneT).attr("width",paneR-10).attr("height",paneB-paneT).attr("fill","#fff");
svg.append("text").attr("x",10).attr("y",18).attr("fill","#d1d4dc").attr("font-size",13.2).text("Tickmill published on TradingView.com, Apr 22, 2024 08:29 UTC+1");

const defs=svg.append("defs");
defs.append("clipPath").attr("id","main").append("rect").attr("x",plotL).attr("y",paneT).attr("width",plotR-plotL).attr("height",mainB-paneT);
defs.append("clipPath").attr("id","osUp").append("rect").attr("x",plotL).attr("y",mainB).attr("width",plotR-plotL).attr("height",O(0)-mainB);
defs.append("clipPath").attr("id","osDn").append("rect").attr("x",plotL).attr("y",O(0)).attr("width",plotR-plotL).attr("height",oscB-O(0));

// watermark
const wm=svg.append("g").attr("fill","#e6e8eb");
wm.append("text").attr("x",1510).attr("y",512).attr("text-anchor","middle").attr("font-size",94).style("font-family","'Liberation Sans',sans-serif").text("US500, 4h");
wm.append("text").attr("x",1510).attr("y",594).attr("text-anchor","middle").attr("font-size",46.5).style("font-family","'Liberation Sans',sans-serif").text("US 500 Index");

// left profile
const main=svg.append("g").attr("clip-path","url(#main)");
const rowY=d3.scaleLinear().domain([0,99]).range([5279,4718]);
const vol=d3.scaleLinear().domain([0,1000]).range([plotL,plotL+1000/1.568]);
const isLight=i=>i<=13||i>=60;
const lp=main.append("g");
leftBuy.forEach((b,i)=>{
  const y=Y(rowY(i))-2.5;
  lp.append("rect").attr("x",plotL).attr("y",y).attr("width",vol(b)-plotL).attr("height",5).attr("fill",isLight(i)?"#b5dfb7":"#5fb862");
  lp.append("rect").attr("x",vol(b)).attr("y",y).attr("width",Math.max(0,vol(leftTotal[i])-vol(b))).attr("height",5).attr("fill",isLight(i)?"#fbb0ab":"#f9574a");
});

// right profile
const rp=main.append("g");
const rRow=d3.scaleLinear().domain([0,239]).range([5281,4596]);
const rRight=X(414)-0.5;
rp.selectAll("rect").data(rightProfile).join("rect").attr("x",d=>rRight-d).attr("y",(d,i)=>Y(rRow(i))-0.8).attr("width",d=>d).attr("height",1.6).attr("fill","#dfe1e4");

// horizontal levels
longLevels.forEach(l=>main.append("line").attr("x1",plotL).attr("x2",X(longLevelEndBar)).attr("y1",Y(l.p)).attr("y2",Y(l.p)).attr("stroke",l.c).attr("stroke-width",l.w));
main.append("line").attr("x1",plotL).attr("x2",rRight).attr("y1",Y(5151)).attr("y2",Y(5151)).attr("stroke","#f48a8a").attr("stroke-width",1).attr("stroke-dasharray","1.5 1.5");
fullLevels.forEach(l=>main.append("line").attr("x1",plotL).attr("x2",plotR).attr("y1",Y(l.p)).attr("y2",Y(l.p)).attr("stroke",l.c).attr("stroke-width",l.w).attr("stroke-dasharray",l.d));
magentaLevels.forEach(l=>main.append("line").attr("x1",X(323.5)).attr("x2",plotR).attr("y1",Y(l.p)).attr("y2",Y(l.p)).attr("stroke",l.c).attr("stroke-width",l.w));
rightOrange.forEach(l=>main.append("line").attr("x1",X(412)).attr("x2",plotR).attr("y1",Y(l.p)).attr("y2",Y(l.p)).attr("stroke",l.c).attr("stroke-width",l.w));
shortLevels.forEach(l=>main.append("line").attr("x1",X(412)).attr("x2",X(418)).attr("y1",Y(l.p)).attr("y2",Y(l.p)).attr("stroke",l.c).attr("stroke-width",l.w));

// bands and steps
[[upperOuter,"rgba(239,83,80,.15)"],[upperInner,"rgba(239,83,80,.15)"],[lowerOuter,"rgba(76,175,80,.15)"],[lowerInner,"rgba(76,175,80,.15)"],[slowAverage,"rgba(76,175,80,.18)"]].forEach(s=>
  main.append("path").attr("d",lineMain(s[0])).attr("fill","none").attr("stroke",s[1]).attr("stroke-width",1.5));
[[resistanceSteps,"rgba(239,83,80,.32)"],[middleSteps,"rgba(255,152,0,.3)"],[supportSteps,"rgba(76,175,80,.3)"]].forEach(s=>
  main.append("path").attr("d",lineMain(s[0])).attr("fill","none").attr("stroke",s[1]).attr("stroke-width",1.5));

// channels
channelLines.forEach(c=>main.append("path").attr("d",lineMain(c)).attr("fill","none").attr("stroke","#d3d5da").attr("stroke-width",1.2));

// candles
const isGreen=i=>greenRuns.some(r=>i>=r[0]&&i<=r[1]);
const cg=main.append("g");
cg.selectAll("line").data(highs).join("line").attr("x1",(d,i)=>X(i)).attr("x2",(d,i)=>X(i)).attr("y1",d=>Y(d)).attr("y2",(d,i)=>Y(lows[i])).attr("stroke","#000").attr("stroke-width",1.1);
cg.selectAll("rect").data(bodyTop).join("rect").attr("x",(d,i)=>X(i)-2.5).attr("width",5).attr("y",d=>Y(d)).attr("height",(d,i)=>Math.max(1.5,Y(bodyBottom[i])-Y(d))).attr("fill",(d,i)=>isGreen(i)?"#008000":"#ff0000");

// signals
main.selectAll("circle.r").data(redSignals).join("circle").attr("class","r").attr("cx",d=>X(d[0])).attr("cy",d=>Y(d[1])).attr("r",4.5).attr("fill","rgba(255,82,82,.5)");
main.selectAll("circle.g").data(greenSignals).join("circle").attr("class","g").attr("cx",d=>X(d[0])).attr("cy",d=>Y(d[1])).attr("r",4.5).attr("fill","rgba(76,175,80,.5)");

// pivots
const piv=main.append("g");
pivotValues.forEach((p,i)=>{
  piv.append("line").attr("x1",X(412)).attr("x2",X(442)).attr("y1",Y(p)).attr("y2",Y(p)).attr("stroke",i%3==1||i==4||i==6?"#c3c5ca":"#a9abb2").attr("stroke-width",pivotWidths[i]);
  piv.append("text").attr("x",X(409.7)).attr("y",Y(p)+5).attr("text-anchor","end").attr("font-size",13).attr("fill","#abaeb5").text(pivotNames[i]);
});
targetValues.forEach((p,i)=>{
  piv.append("line").attr("x1",X(424)).attr("x2",X(429)).attr("y1",Y(p)).attr("y2",Y(p)).attr("stroke",targetLine[i]).attr("stroke-width",i==1||i==5?2:2.6);
  piv.append("text").attr("x",2789).attr("y",Y(p)+5).attr("font-size",13).attr("fill",targetText[i]).text("("+p.toFixed(1)+")");
});

// forecast
main.append("path").attr("d",lineMain(forecastPath)).attr("fill","none").attr("stroke","#4a8df0").attr("stroke-width",1.3);
const tip=forecastPath[forecastPath.length-1];
main.append("path").attr("d",d3.line()([[X(tip[0])-5.6,Y(tip[1])-2.7],[X(tip[0]),Y(tip[1])],[X(tip[0])+4,Y(tip[1])-6]])).attr("fill","none").attr("stroke","#4a8df0").attr("stroke-width",1.3);

// lightning badge
const bolt=svg.append("g").attr("transform","translate("+X(414)+",1000)");
bolt.append("circle").attr("r",9.5).attr("fill","#fff").attr("stroke","#9c27b0").attr("stroke-width",1.8);
bolt.append("path").attr("d","M1.5,-6.5 L-3.5,1 L-0.5,1 L-1.5,6.5 L3.5,-1 L0.5,-1 Z").attr("fill","#9c27b0");

// oscillator
svg.append("path").attr("d",lineOsc(oscillatorTrend)).attr("fill","none").attr("stroke","#c9cad2").attr("stroke-width",2.5);
svg.append("line").attr("x1",plotL).attr("x2",X(414)).attr("y1",O(0)).attr("y2",O(0)).attr("stroke","#868993").attr("stroke-width",2);
svg.append("path").attr("clip-path","url(#osUp)").attr("d",lineOsc(oscillator)).attr("fill","none").attr("stroke","#8dcc8f").attr("stroke-width",3.6).attr("stroke-linejoin","round");
svg.append("path").attr("clip-path","url(#osDn)").attr("d",lineOsc(oscillator)).attr("fill","none").attr("stroke","#fa8c84").attr("stroke-width",3.6).attr("stroke-linejoin","round");

// stochastic
stochLevels.forEach(l=>svg.append("line").attr("x1",plotL).attr("x2",plotR).attr("y1",S(l.v)).attr("y2",S(l.v)).attr("stroke",l.c).attr("stroke-width",l.w).attr("stroke-dasharray",l.d));
[[slowGreen,"#5cb560"],[slowRed,"#f4544a"],[fastGreen,"#5cb560"],[fastRed,"#f4544a"]].forEach(s=>
  svg.append("path").attr("d",lineS(s[0])).attr("fill","none").attr("stroke",s[1]).attr("stroke-width",1.2));

// frame
const frame=svg.append("g").attr("stroke","#787b86").attr("stroke-width",1);
[[plotL,paneT,plotL,paneB],[plotR,paneT,plotR,paneB],[10,paneT,paneR,paneT],[10,stochB,paneR,stochB],[paneR,paneT,paneR,paneB]].forEach(l=>frame.append("line").attr("x1",l[0]).attr("y1",l[1]).attr("x2",l[2]).attr("y2",l[3]));
svg.append("line").attr("x1",10).attr("x2",paneR).attr("y1",mainB).attr("y2",mainB).attr("stroke","#e0e3eb").attr("stroke-width",2);
svg.append("line").attr("x1",10).attr("x2",paneR).attr("y1",oscB).attr("y2",oscB).attr("stroke","#e0e3eb").attr("stroke-width",2);

// axes
function styleAxis(g,size){g.select(".domain").remove();g.selectAll(".tick line").remove();g.selectAll("text").attr("font-size",size).attr("fill","#131722").style("font-family","Roboto,sans-serif");}
svg.append("g").attr("transform","translate(2962,0)").call(d3.axisRight(Y).tickValues(priceTicks).tickSize(0).tickPadding(0).tickFormat(d3.format(".1f"))).call(styleAxis,13);
svg.append("g").attr("transform","translate(2960,0)").call(d3.axisRight(O).tickValues(oscTicks).tickSize(0).tickPadding(0).tickFormat(d=>d<0?"\u2212"+Math.abs(d).toFixed(1):d.toFixed(1))).call(styleAxis,13);
svg.append("g").attr("transform","translate(2960,0)").call(d3.axisRight(S).tickValues(stochTicks).tickSize(0).tickPadding(0).tickFormat(d3.format(".2f"))).call(styleAxis,13);
svg.append("g").attr("transform","translate(57.5,-1.5)").call(d3.axisLeft(S).tickValues(stochTicks).tickSize(0).tickPadding(0).tickFormat(d3.format(".2f"))).call(styleAxis,13);
const tx=svg.append("g").attr("transform","translate(-1,1210)").call(d3.axisBottom(X).tickValues(timeBars).tickSize(0).tickPadding(0).tickFormat((d,i)=>timeLabels[i])).call(styleAxis,13);
tx.selectAll("text").attr("dy",".71em").style("font-weight",(d,i)=>boldLabels.includes(timeLabels[i])?"700":"400").attr("dx",(d,i)=>i==0?7:0);

// price box and small text
svg.append("rect").attr("x",plotR).attr("y",578.6).attr("width",62).attr("height",28.4).attr("fill","#ff0000");
svg.append("text").attr("x",2962).attr("y",591).attr("font-size",13).attr("fill","#fff").text("4987.2");
svg.append("text").attr("x",2962).attr("y",604).attr("font-size",13).attr("fill","#fff").text("02:30:24");
svg.append("text").attr("x",2977).attr("y",46).attr("font-size",12).attr("text-anchor","middle").attr("fill","#131722").text("USD");

[["Z",38],["A",2986]].forEach(b=>{
  svg.append("circle").attr("cx",b[1]).attr("cy",1217).attr("r",9.5).attr("fill","#f0f3fa");
  svg.append("text").attr("x",b[1]).attr("y",1221.5).attr("text-anchor","middle").attr("font-size",12.5).attr("fill","#4a4d57").text(b[0]);
});

// footer
const foot=svg.append("g").attr("fill","#d1d4dc");
foot.append("path").attr("d","M10,1243 H19 V1253 H15 V1247 H10 Z");
foot.append("circle").attr("cx",21.5).attr("cy",1245).attr("r",2);
foot.append("path").attr("d","M24,1243 H29.5 L25,1253 H19.5 Z");
foot.append("text").attr("x",33).attr("y",1255).attr("font-size",14.5).attr("font-weight",500).text("TradingView");
</script></body></html>
